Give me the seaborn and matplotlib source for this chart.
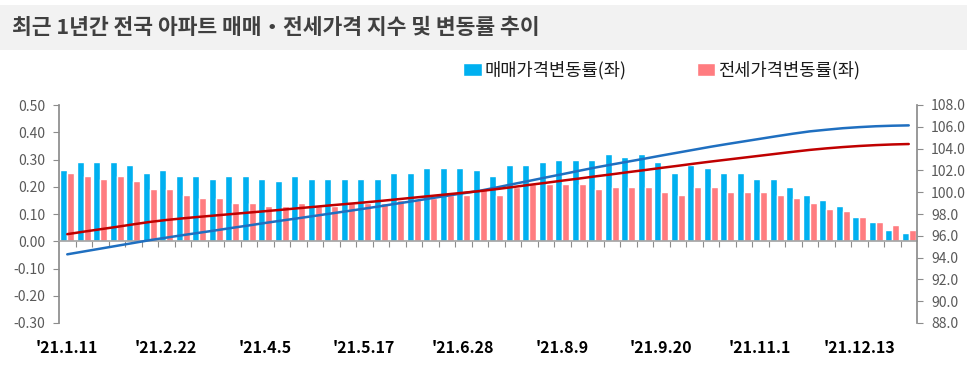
import numpy as np
import pandas as pd
import matplotlib
matplotlib.use("Agg")
import matplotlib.pyplot as plt
from matplotlib.patches import Rectangle
from matplotlib.ticker import FixedLocator, FormatStrFormatter
import seaborn as sns

# weekly survey dates ('21.1.11 ~ '22.1.3)
weeks = pd.date_range("2021-01-11", periods=52, freq="7D")
week_labels = ["'" + d.strftime("%y") + f".{d.month}.{d.day}" for d in weeks]

# weekly change rate (%), left axis
sale_rate = [0.26, 0.29, 0.29, 0.29, 0.28, 0.25, 0.26, 0.24, 0.24, 0.23,
             0.24, 0.24, 0.23, 0.22, 0.24, 0.23, 0.23, 0.23, 0.23, 0.23,
             0.25, 0.25, 0.27, 0.27, 0.27, 0.26, 0.24, 0.28, 0.28, 0.29,
             0.30, 0.30, 0.30, 0.32, 0.31, 0.32, 0.29, 0.25, 0.28, 0.27,
             0.25, 0.25, 0.23, 0.23, 0.20, 0.17, 0.15, 0.13, 0.09, 0.07,
             0.04, 0.03]
jeonse_rate = [0.25, 0.24, 0.23, 0.24, 0.22, 0.19, 0.19, 0.17, 0.16, 0.16,
               0.14, 0.14, 0.13, 0.13, 0.14, 0.13, 0.13, 0.14, 0.14, 0.14,
               0.15, 0.15, 0.16, 0.17, 0.17, 0.19, 0.17, 0.20, 0.21, 0.21,
               0.21, 0.21, 0.19, 0.20, 0.20, 0.20, 0.18, 0.17, 0.20, 0.20,
               0.18, 0.18, 0.18, 0.17, 0.16, 0.14, 0.12, 0.11, 0.09, 0.07,
               0.06, 0.04]

# price index (right axis)
sale_index = [94.30, 94.56, 94.82, 95.08, 95.34, 95.60, 95.83, 96.06, 96.28, 96.50,
              96.73, 96.95, 97.18, 97.40, 97.61, 97.83, 98.05, 98.27, 98.49, 98.72,
              98.96, 99.19, 99.43, 99.67, 99.90, 100.13, 100.43, 100.74, 101.04, 101.35,
              101.65, 101.96, 102.26, 102.54, 102.81, 103.08, 103.36, 103.63, 103.90, 104.17,
              104.42, 104.66, 104.90, 105.14, 105.37, 105.58, 105.73, 105.87, 105.97, 106.05,
              106.10, 106.13]
jeonse_index = [96.15, 96.38, 96.60, 96.82, 97.05, 97.27, 97.45, 97.60, 97.74, 97.87,
                98.00, 98.13, 98.26, 98.39, 98.53, 98.66, 98.80, 98.93, 99.06, 99.20,
                99.35, 99.50, 99.65, 99.80, 99.95, 100.10, 100.28, 100.47, 100.67, 100.86,
                101.06, 101.25, 101.45, 101.64, 101.84, 102.03, 102.23, 102.42, 102.62, 102.81,
                102.99, 103.17, 103.35, 103.53, 103.71, 103.88, 104.02, 104.14, 104.24, 104.32,
                104.38, 104.42]

series_names = ["매매가격변동률(좌)", "전세가격변동률(좌)"]
bar_colors = ["#00B0F0", "#FF7C80"]
line_colors = ["#1F6FC0", "#C00000"]

sns.set_theme(style="white")
plt.rcParams["font.family"] = ["Noto Sans CJK KR", "DejaVu Sans"]
plt.rcParams["axes.unicode_minus"] = False

df = pd.DataFrame({
    "week": week_labels * 2,
    "rate": sale_rate + jeonse_rate,
    "type": [series_names[0]] * len(week_labels) + [series_names[1]] * len(week_labels),
})

fig = plt.figure(figsize=(9.67, 3.73), dpi=100)
ax = fig.add_axes([59 / 967, 1 - 323 / 373, 858 / 967, 218 / 373])

# title band
fig.patches.append(Rectangle((0, 1 - 50 / 373), 1, 45 / 373, transform=fig.transFigure,
                             facecolor="#F2F2F2", edgecolor="none", zorder=0))
fig.text(12 / 967, 1 - 28 / 373, "최근 1년간 전국 아파트 매매・전세가격 지수 및 변동률 추이",
         fontsize=15.5, fontweight="bold", color="#404040", va="center", ha="left")

sns.barplot(data=df, x="week", y="rate", hue="type", order=week_labels,
            hue_order=series_names, palette=bar_colors, width=0.82,
            saturation=1, ax=ax)
handles, labels = ax.get_legend_handles_labels()
ax.get_legend().remove()

ax.set_xlim(-0.5, len(week_labels) - 0.5)
ax.set_ylim(-0.3, 0.5)
ax.set_yticks(np.arange(-0.3, 0.51, 0.1))
ax.yaxis.set_major_formatter(FormatStrFormatter("%.2f"))
ax.set_xlabel("")
ax.set_ylabel("")

for s in ["top", "right"]:
    ax.spines[s].set_visible(False)
ax.spines["left"].set_color("#8C8C8C")
ax.spines["bottom"].set_position(("data", 0))
ax.spines["bottom"].set_color("#A6A6A6")

major = list(range(0, len(week_labels), 6))
ax.xaxis.set_major_locator(FixedLocator(major))
ax.set_xticklabels([week_labels[i] for i in major])
ax.xaxis.set_minor_locator(FixedLocator(np.arange(0.5, len(week_labels) - 1, 1)))
ax.tick_params(axis="x", which="major", length=0, pad=71, labelsize=11.5,
               labelcolor="black")
for t in ax.get_xticklabels():
    t.set_fontweight("bold")
ax.tick_params(axis="x", which="minor", bottom=True, direction="out", length=4,
               width=0.8, color="#8C8C8C")
ax.tick_params(axis="y", left=True, direction="out", length=4, width=0.8,
               color="#8C8C8C", labelsize=10, labelcolor="#595959", pad=6)

ax2 = ax.twinx()
sns.lineplot(x=np.arange(len(week_labels)), y=sale_index, color=line_colors[0],
             linewidth=1.8, ax=ax2)
sns.lineplot(x=np.arange(len(week_labels)), y=jeonse_index, color=line_colors[1],
             linewidth=1.8, ax=ax2)
ax2.set_ylim(88, 108)
ax2.set_yticks(np.arange(88, 108.1, 2))
ax2.yaxis.set_major_formatter(FormatStrFormatter("%.1f"))
for s in ["top", "left", "bottom"]:
    ax2.spines[s].set_visible(False)
ax2.spines["right"].set_color("#8C8C8C")
ax2.tick_params(axis="y", right=True, direction="out", length=4, width=0.8,
                color="#8C8C8C", labelsize=10, labelcolor="#595959", pad=6)
ax2.grid(False)
ax.grid(False)

leg = fig.legend(handles, labels, loc="center left", bbox_to_anchor=(463 / 967, 1 - 70 / 373),
                 ncol=2, frameon=False, fontsize=12.7, handlelength=1.05, handleheight=0.75,
                 handletextpad=0.15, columnspacing=4.0, borderpad=0, borderaxespad=0)
for t in leg.get_texts():
    t.set_fontweight("medium")
    t.set_color("#1A1A1A")

fig.savefig("out.png", dpi=100)
